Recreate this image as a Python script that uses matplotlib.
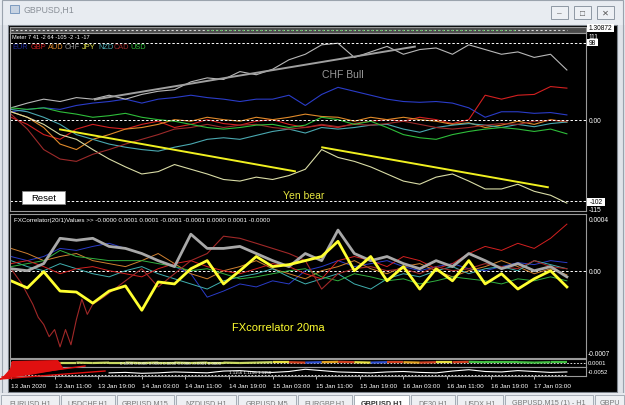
import numpy as np
import matplotlib
matplotlib.use('Agg')
import matplotlib.pyplot as plt
from matplotlib.patches import Rectangle, Polygon
from matplotlib.collections import LineCollection

plt.rcParams['font.family'] = ['Liberation Sans', 'DejaVu Sans']

# ---------------- data ----------------
currencies = ['EUR', 'GBP', 'AUD', 'CHF', 'JPY', 'NZD', 'CAD', 'USD']
legend_colors = ['#1e2a9a', '#d42020', '#e08a2a', '#8c8c8c', '#e6e64a', '#4aa8b0', '#9c2a2a', '#2ebd3a']
meter_values = [7, 41, -2, 64, -105, -2, -1, -17]
corr_values = ['-0.0000', '0.0001', '0.0001', '-0.0001', '-0.0001', '0.0000', '0.0001', '-0.0000']

bars = list(range(0, 103, 3))

main_eur = [11, 14, 16, 14, 19, 22, 24, 27, 22, 27, 29, 32, 29, 27, 24, 27, 27, 32, 19, 33,
            42, 37, 32, 27, 24, 23, 24, 22, 16, 4, 11, 11, 9, 10, 7]
main_gbp = [4, -5, -18, -24, -11, -5, -9, -11, -5, -1, -9, -5, 1, -4, -6, -1, 1, -5, -9, -6,
            -9, -4, -1, 1, -1, 4, 1, -4, 1, 32, 27, 32, 33, 43, 41]
main_aud = [11, 4, -9, -30, -37, -24, -18, -11, -9, -5, 1, -1, 4, 1, -1, 4, 1, 4, 8, 5,
            4, -1, 4, 1, 4, 1, -1, -5, -3, -9, -6, -1, -5, 1, -2]
main_chf = [16, 22, 27, 24, 29, 27, 32, 27, 33, 37, 39, 49, 54, 52, 62, 58, 65, 77, 84, 96,
            98, 80, 87, 94, 84, 90, 92, 84, 96, 90, 84, 87, 80, 84, 64]
main_jpy = [11, 4, -5, -18, -24, -37, -49, -59, -68, -65, -56, -62, -68, -75, -77, -72, -75, -70, -62, -37,
            -47, -52, -59, -68, -77, -81, -72, -68, -77, -87, -87, -81, -90, -95, -105]
main_nzd = [14, 11, 4, -5, -18, -24, -30, -34, -37, -39, -34, -30, -24, -22, -24, -19, -14, -11, -16, -9,
            -11, -9, -6, -5, -11, -15, -9, -6, -4, -6, -9, -5, -8, -4, -2]
main_cad = [8, -11, -37, -49, -52, -43, -37, -30, -24, -18, -11, -9, -5, -9, -6, -5, -9, -11, -9, -5,
            -8, -5, -6, -4, -1, -5, -9, -11, -9, -6, -4, -5, -1, 0, -1]
main_usd = [16, 14, 16, 11, 8, 4, 6, 9, 4, 1, -1, -5, -9, -11, -9, -6, -5, -9, -6, 4,
            1, -5, -1, -9, -18, -22, -24, -18, -14, -11, -9, -11, -14, -11, -17]
main_levels = [98, 0, -102]

# user-drawn trend lines: (bar0, value0, bar1, value1)
chf_trend = (15.4, 26.6, 74.1, 93.7)
jpy_trend_1 = (9.0, -11.4, 52.1, -64.6)
jpy_trend_2 = (57.1, -34.2, 98.5, -84.8)

# FXCorrelator values, in units of 1e-4
lo_jpy = [-0.81, -1.38, -0.08, -1.63, -1.71, -2.60, -1.63, -1.22, -3.17, -0.90, -1.06, 0.16, 0.81, -1.06, 0,
          1.14, 0.33, 0.49, 0.81, 1.14, 2.36, 0, 1.14, -0.81, 0.33, -1.47, 0.16, -0.81, 0.81, -1.06,
          -0.24, -1.47, -0.65, 0, -1.30]
lo_chf = [0.16, 0, 0.57, 2.60, 2.44, 2.60, 1.95, 1.79, 1.38, 0.81, 0.33, 2.93, 1.79, 1.79, 1.95,
          1.38, 0.81, 0.33, 1.38, 0.81, 3.26, 1.38, 0.81, 1.14, 0.57, 0.16, 0.81, 0.33, 1.38, 0.81,
          0.16, 0.57, 0, 0.33, -0.49]
lo_gbp = [0.57, 0.81, 0.33, -0.24, 0.16, 0.33, 0, -0.24, -0.49, 0.16, 0.57, 0.81, 0.33, 0, -0.24,
          0.16, 0.57, 0.33, -0.24, -0.65, 0.81, 1.14, 0.81, 0.33, 1.14, 0.81, 0.16, 0.57, 1.38, 1.95,
          1.63, 2.20, 1.79, 2.60, 3.74]
lo_eur = [1.14, 0.81, 1.14, 1.79, 1.63, 1.95, 2.20, 1.79, 1.38, 0.81, 0.33, -0.24, -2.12, -1.63, -1.06,
          -1.30, -0.81, -1.06, 0, 0.33, 0.81, 0.33, 0.57, 0.81, 0.33, 0, 0.33, 0.57, 0.16, 0,
          0.33, 0.65, 0.49, 0.81, 0.65]
lo_usd = [0.33, 0.57, 0.81, 1.63, 1.14, 0.98, 0.81, 0.81, 0.81, 0.57, 0.33, 0, 0.16, -0.24, -0.65,
          -0.49, -0.24, 0, 0.16, -0.49, -0.81, -0.24, -0.49, -0.81, -0.65, -1.06, -0.81, -0.49, -0.65, -0.81,
          -1.06, -0.65, -0.81, -0.49, -0.81]
lo_nzd = [0.81, 0.33, 0, 0.57, 0.16, -0.24, -0.49, 0, 0.33, -0.24, -0.65, -1.06, -1.47, -0.81, -0.49,
          -0.24, 0.16, -0.49, -1.06, -0.65, -0.24, -1.06, -1.47, -0.65, -0.24, -0.49, 0, 0.33, -0.24, 0.16,
          0.33, 0, 0.81, 0.49, 0.16]
lo_aud = [1.79, 1.38, 0.81, 1.14, 1.38, 0.81, 0.57, 0.33, 0.81, 1.38, 0.57, -0.24, -0.65, 0, 0.33,
          0.81, 0.16, -0.24, -0.65, 0, 0.33, 0.81, 0.16, -0.24, 0.33, 0.57, 0, -0.49, 0, 0.33,
          0.81, 0.33, -0.24, 0.16, -0.33]
lo_cad_x = [0, 2, 4, 5, 6, 7, 8, 9, 10, 11, 12, 13, 14, 15, 17, 19, 21, 24, 27, 30, 33, 36, 39, 42,
            45, 48, 51, 54, 57, 60, 63, 66, 69, 72, 75, 78, 81, 84, 87, 90, 93, 96, 99, 102]
lo_cad = [0.16, -1.06, -2.69, -3.74, -4.31, -5.29, -4.72, -6.11, -4.72, -5.94, -3.91, -2.28, -3.50, -2.69,
          -2.12, -1.47, -0.81, 0.16, -1.30, -0.24, 0.81, 1.38, 2.77, 2.60, 2.20, 1.79, 1.38, 0.81, -1.47,
          -0.24, 0.16, 0.33, 0, 0.16, -0.24, 0.33, 0, 0.16, 0.57, 0.33, 0.16, 0.81, 0.33, 0.16]

# tiny sub-windows at the bottom
mini_a = [0.5, 0.5, 0.55, 0.55, 0.55, 0.5, 0.55, 0.55, 0.5, 0.55, 0.55, 0.5, 0.55, 0.55, 0.5, 0.55, 0.6,
          0.6, 0.55, 0.6, 0.65, 0.6, 0.55, 0.6, 0.6, 0.55, 0.6, 0.6, 0.65, 0.6, 0.6, 0.6, 0.55, 0.6, 0.6]
mini_a_cols = ['#d02020'] * 2 + ['#c8d860'] * 14 + ['#e8e040', '#d04020', '#3050d0', '#e0a020', '#d04020',
               '#e8e040', '#3050d0', '#d04020', '#e0a020', '#d04020', '#e8e040', '#d04020'] + ['#40c040'] * 6
mini_b_x = bars[6:]
mini_b = [0.35, 0.4, 0.3, 0.35, 0.45, 0.4, 0.35, 0.55, 0.6, 0.45, 0.4, 0.5, 0.75, 0.6, 0.45, 0.4, 0.35,
          0.45, 0.5, 0.4, 0.35, 0.55, 0.7, 0.5, 0.45, 0.6, 0.5, 0.4, 0.45]

time_ticks = list(range(0, 97, 8))
time_labels = ['13 Jan 2020', '13 Jan 11:00', '13 Jan 19:00', '14 Jan 03:00', '14 Jan 11:00',
               '14 Jan 19:00', '15 Jan 03:00', '15 Jan 11:00', '15 Jan 19:00', '16 Jan 03:00',
               '16 Jan 11:00', '16 Jan 19:00', '17 Jan 03:00']
tabs = ['EURUSD,H1', 'USDCHF,H1', 'GBPUSD,M15', 'NZDUSD,H1', 'GBPUSD,M5', 'EURGBP,H1',
        'GBPUSD,H1', 'DE30,H1', 'USDX,H1', 'GBPUSD,M15 (1) - H1', 'GBPU']

# ---------------- figure ----------------
W, H = 625, 406
fig = plt.figure(figsize=(W / 100, H / 100), dpi=100, facecolor='#dfe3e9')


def fx(x):
    return x / W


def fy(y):
    return 1 - y / H


def px_axes(x0, y0, x1, y1, **kw):
    return fig.add_axes([fx(x0), fy(y1), (x1 - x0) / W, (y1 - y0) / H], **kw)


def frect(x0, y0, x1, y1, z=-5, **kw):
    fig.patches.append(Rectangle((fx(x0), fy(y1)), (x1 - x0) / W, (y1 - y0) / H,
                                 transform=fig.transFigure, figure=fig, zorder=z, **kw))


# window chrome
frect(0, 0, 625, 26, facecolor='#e8ecf1', edgecolor='none')
frect(2, 1, 623, 394, facecolor='none', edgecolor='#9aa3ad', lw=0.8)
frect(8, 26, 617, 393, facecolor='black', edgecolor='#7f868e', lw=0.8)
frect(10, 6, 19, 14, facecolor='#c7d3e2', edgecolor='#6d8fb8', lw=0.6)
fig.text(fx(24), fy(10), 'GBPUSD,H1', color='#8a9098', fontsize=6.3, va='center')
for bx in (551, 574, 597):
    frect(bx, 7, bx + 17, 20, facecolor='#edf0f4', edgecolor='#8e98a3', lw=0.7)
fig.text(fx(559.5), fy(14), '–', color='#555', fontsize=6, ha='center', va='center')
fig.text(fx(582.5), fy(14), '□', color='#555', fontsize=6, ha='center', va='center')
fig.text(fx(605.5), fy(14), '✕', color='#555', fontsize=6, ha='center', va='center')

# bottom tabs
frect(0, 394, 625, 406, facecolor='#e6e9ee', edgecolor='none')
tab_edges = [0, 60, 116, 175, 237, 297, 353, 410, 456, 504, 594, 625]
for i, name in enumerate(tabs):
    x0, x1 = tab_edges[i], tab_edges[i + 1]
    active = i == 6
    frect(x0 + 1, 396, x1 - 1, 410, facecolor='white' if active else '#eef0f3',
          edgecolor='#9aa3ad', lw=0.6)
    fig.text(fx((x0 + x1) / 2), fy(404), name, color='#333' if active else '#777',
             fontsize=5.2, ha='center', va='center', fontweight='bold' if active else 'normal')

xlim = ((10 - 11) / 5.45, (586 - 11) / 5.45)


def style(ax):
    ax.set_facecolor('black')
    ax.set_xlim(*xlim)
    ax.set_xticks([])
    ax.set_yticks([])
    for s in ax.spines.values():
        s.set_color('#9a9a9a')
        s.set_linewidth(0.8)


# top price strip
ax_top = px_axes(10, 28, 586, 34)
style(ax_top)
ax_top.set_facecolor('#4a4a4a')
ax_top.set_ylim(0, 1)
ax_top.plot([bars[0], bars[-1]], [0.5, 0.5], color='#d8d8d8', lw=0.8, ls=(0, (2, 2)))
ax_top.plot([bars[12], bars[-4]], [0.5, 0.5], color='#40d040', lw=0.8, ls=(0, (1, 3)))

# main meter panel
ax = px_axes(10, 34, 586, 212)
style(ax)
ax.set_ylim(-115, 111)
main_series = [main_eur, main_gbp, main_aud, main_chf, main_jpy, main_nzd, main_cad, main_usd]
main_line_colors = ['#2a3cc8', '#d42020', '#e08a2a', '#b8b8b8', '#d9dca6', '#4aa8b0', '#9c2a2a', '#2ebd3a']
for vals, col in zip(main_series, main_line_colors):
    ax.plot(bars, vals, color=col, lw=0.8)
for lv in main_levels:
    ax.axhline(lv, color='white', lw=0.7, ls=(0, (2.5, 2)))
ax.plot(chf_trend[0::2], chf_trend[1::2], color='#a0a0a0', lw=1.4)
ax.plot(jpy_trend_1[0::2], jpy_trend_1[1::2], color='#f0f020', lw=1.4)
ax.plot(jpy_trend_2[0::2], jpy_trend_2[1::2], color='#f0f020', lw=1.4)

fig.text(fx(12), fy(37.5), 'Meter ' + ' '.join(str(v) for v in meter_values),
         color='white', fontsize=4.1, va='center')
leg_x = [12, 31, 48, 65, 82, 98, 114, 130]
for x, name, col in zip(leg_x, currencies, legend_colors):
    fig.text(fx(x), fy(47.5), name, color=col, fontsize=5.3, va='center')
fig.text(fx(322), fy(75), 'CHF Bull', color='#9a9a9a', fontsize=7.5, va='center')
fig.text(fx(283), fy(196), 'Yen bear', color='#e6e640', fontsize=7.5, va='center')
frect(22, 192, 65, 205, z=10, facecolor='white', edgecolor='#888', lw=0.6)
fig.text(fx(43.5), fy(198.5), 'Reset', color='black', fontsize=6.8, ha='center', va='center', zorder=11)

# FXCorrelator panel
ax2 = px_axes(10, 215, 586, 359)
style(ax2)
ax2.set_ylim(-7.0, 4.55)
ax2.axhline(0, color='white', lw=0.7, ls=(0, (2.5, 2)))
thin = [(lo_eur, '#2a3cc8'), (lo_aud, '#d08030'), (lo_nzd, '#40b0b0'), (lo_usd, '#30b040'),
        (lo_gbp, '#d42020')]
for vals, col in thin:
    ax2.plot(bars, vals, color=col, lw=0.7)
ax2.plot(lo_cad_x, lo_cad, color='#a02828', lw=0.8)
ax2.plot(bars, lo_chf, color='#a8a8a8', lw=2.0)
ax2.plot(bars, lo_jpy, color='#ffff30', lw=2.0)
fig.text(fx(14), fy(221), 'FXCorrelator(20/1)Values >> ' + ' '.join(corr_values),
         color='white', fontsize=4.5, va='center')
fig.text(fx(232), fy(328), 'FXcorrelator 20ma', color='#ffff30', fontsize=8, va='center')

# tiny sub-windows
ax3 = px_axes(10, 360, 586, 368)
style(ax3)
ax3.set_ylim(0, 1)
ax3.axhline(0.5, color='white', lw=0.6, ls=(0, (2, 2)))
pts = np.column_stack([bars, mini_a])
segs = np.stack([pts[:-1], pts[1:]], axis=1)
ax3.add_collection(LineCollection(segs, colors=mini_a_cols, linewidths=1.6))
ax3.text(20, 0.5, '0.0000 0.0000 0.0000 0.0000 0.0000 -0.0001 0.0000', color='white',
         fontsize=3.2, va='center')

ax4 = px_axes(10, 368, 586, 377)
style(ax4)
ax4.set_ylim(0, 1)
ax4.plot(mini_b_x, mini_b, color='white', lw=0.8)
ax4.plot([bars[0], bars[-1]], [0.08, 0.08], color='white', lw=0.6, ls=(0, (2, 2)))
ax4.text(40, 0.45, '1.1156 1.1156 1.1156', color='white', fontsize=3.2, va='center')
ax4.set_xticks(time_ticks)
ax4.set_xticklabels(time_labels, ha='left')
ax4.tick_params(axis='x', colors='#cfcfcf', length=2.5, width=0.6, pad=2.5, labelsize=4.6,
                labelcolor='white')

# red scribble arrow at the bottom-left
fig.patches.append(Polygon([(fx(12), fy(362)), (fx(58), fy(361)), (fx(64), fy(370)),
                            (fx(30), fy(376)), (fx(1), fy(380)), (fx(10), fy(370))],
                           closed=True, transform=fig.transFigure, figure=fig,
                           facecolor='#e01010', edgecolor='none', zorder=5))
for (xa, ya), (xb, yb) in [((0, 380), (105, 372)), ((0, 380), (60, 364)), ((2, 378), (85, 367))]:
    fig.lines.append(plt.Line2D([fx(xa), fx(xb)], [fy(ya), fy(yb)], transform=fig.transFigure,
                                color='#e01010', lw=1.0, zorder=5))

# right-side scale labels
frect(587, 25, 614, 32.5, z=10, facecolor='white', edgecolor='none')
fig.text(fx(600.5), fy(28.8), '1.30872', color='black', fontsize=4.8, ha='center', va='center', zorder=11)
fig.text(fx(589), fy(37.5), '111', color='white', fontsize=4.8, va='center')
frect(587, 40, 598, 46.5, z=10, facecolor='white', edgecolor='none')
fig.text(fx(592.5), fy(43.3), '98', color='black', fontsize=4.8, ha='center', va='center', zorder=11)
fig.text(fx(589), fy(121.5), '0.00', color='white', fontsize=4.8, va='center')
frect(587, 199, 605, 206.5, z=10, facecolor='white', edgecolor='none')
fig.text(fx(596), fy(202.8), '-102', color='black', fontsize=4.8, ha='center', va='center', zorder=11)
fig.text(fx(589), fy(210.5), '-115', color='white', fontsize=4.8, va='center')
fig.text(fx(589), fy(221), '0.0004', color='white', fontsize=4.8, va='center')
fig.text(fx(589), fy(272.5), '0.00', color='white', fontsize=4.8, va='center')
fig.text(fx(588), fy(355), '-0.0007', color='white', fontsize=4.8, va='center')
fig.text(fx(588), fy(363.5), '0.0001', color='white', fontsize=4.3, va='center')
fig.text(fx(588), fy(372.5), '-0.0052', color='white', fontsize=4.3, va='center')

fig.savefig('out.png', dpi=100, facecolor=fig.get_facecolor())
